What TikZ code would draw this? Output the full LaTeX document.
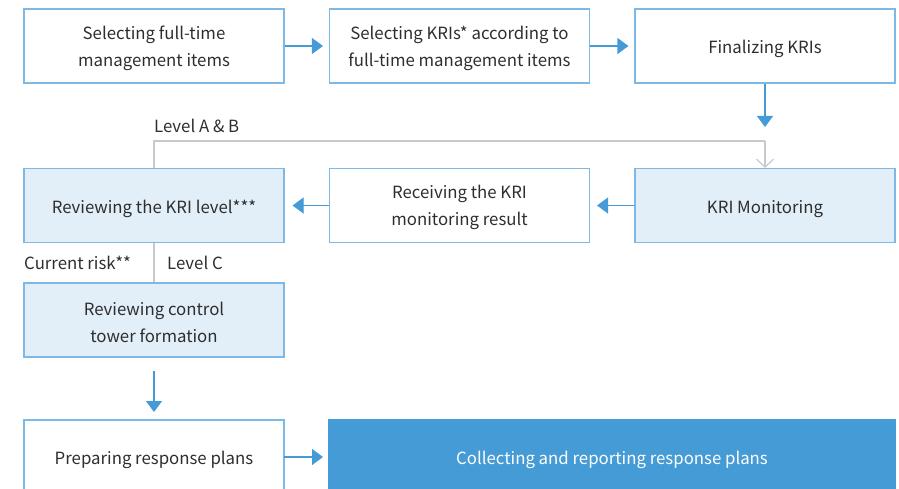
\documentclass[tikz,border=0pt]{standalone}
\usepackage{fontspec}
\setmainfont{Noto Sans CJK KR}
\usetikzlibrary{arrows.meta}
\definecolor{bord}{HTML}{7DB9E4}
\definecolor{lfill}{HTML}{E2EFF9}
\definecolor{dfill}{HTML}{449BD6}
\definecolor{arr}{HTML}{449BD6}
\definecolor{gline}{HTML}{C9C9C9}
\definecolor{txt}{HTML}{2E2E2E}
\tikzset{
  box/.style={draw=bord, line width=1.1pt, minimum width=260pt, minimum height=74pt,
    align=center, text=txt, font=\fontsize{16.8pt}{27pt}\selectfont, inner sep=0pt,
    execute at begin node={\rule{0pt}{20pt}}},
  twoline/.style={text height=45pt},
  lbox/.style={box, fill=lfill},
  dbox/.style={box, fill=dfill, draw=dfill, text=white},
  flow/.style={draw=arr, line width=1.1pt, -{Triangle[length=11pt,width=16pt]}},
  grey/.style={draw=gline, line width=1.2pt},
  lbl/.style={text=txt, font=\fontsize{16.8pt}{20pt}\selectfont, inner sep=0pt, anchor=west}
}
\begin{document}
\begin{tikzpicture}[x=1pt,y=-1pt]
\useasboundingbox (0,0) rectangle (899,489);
\clip (0,0) rectangle (899,489);
\node[box, twoline] (b1) at (154,46) {Selecting full-time\\management items};
\node[box, twoline] (b2) at (459.5,46) {Selecting KRIs* according to\\full-time management items};
\node[box] (b3) at (765,46) {Finalizing KRIs};
\node[lbox] (r1) at (154,205.5) {Reviewing the KRI level***};
\node[box, twoline] (r2) at (459.5,205.5) {Receiving the KRI\\monitoring result};
\node[lbox] (r3) at (765,205.5) {KRI Monitoring};
\node[lbox, twoline] (c1) at (154,320) {Reviewing control\\tower formation};
\node[box, minimum height=80pt] (p1) at (154,460) {};
\node[text=txt, font=\fontsize{16.8pt}{26pt}\selectfont] (p1t) at (154,459.5) {Preparing response plans};
\node[dbox, minimum width=566pt, minimum height=80pt] (p2) at (612,460) {};
\node[text=white, font=\fontsize{16.8pt}{26pt}\selectfont] (p2t) at (612,459.5) {Collecting and reporting response plans};
\coordinate (fend) at (765,127);
\coordinate (ga) at (154,141);
\coordinate (gb) at (765,141);
\coordinate (p1top) at (154,420);
\coordinate (p1r) at (284,457);
\coordinate (p2l) at (329,457);
\draw[flow, shorten >=6pt] (b1) -- (b2);
\draw[flow, shorten >=6pt] (b2) -- (b3);
\draw[flow] (b3) -- (fend);
\draw[flow, shorten >=7pt] (r3) -- (r2);
\draw[flow, shorten >=8pt] (r2) -- (r1);
\draw[flow, shorten <=13pt, shorten >=8pt] (c1) -- (p1top);
\draw[flow, shorten >=6pt] (p1r) -- (p2l);
\draw[grey] (r1.north) -- (ga) -- (gb);
\draw[grey, -{Straight Barb[length=8pt,width=17pt]}] (gb) -- (r3.north);
\draw[grey] (r1.south) -- (c1.north);
\node[lbl] (la) at (154,126) {Level A \& B};
\node[lbl] (lc) at (24,263) {Current risk**};
\node[lbl] (ld) at (167,263) {Level C};
\end{tikzpicture}
\end{document}
